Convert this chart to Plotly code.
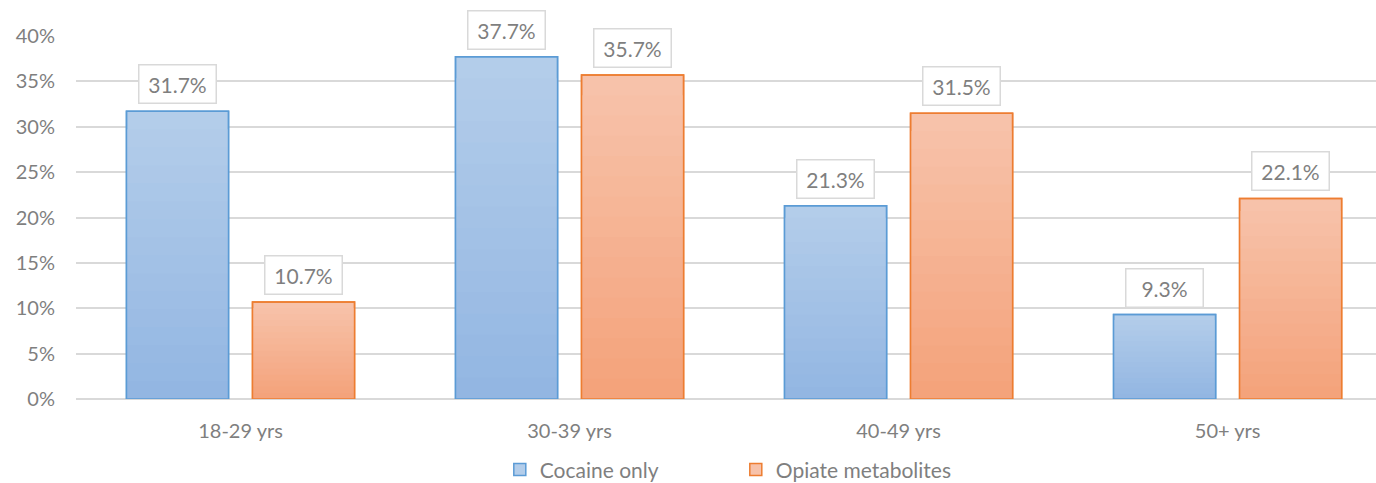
import plotly.graph_objects as go

categories = ["18-29 yrs", "30-39 yrs", "40-49 yrs", "50+ yrs"]
cocaine = [31.7, 37.7, 21.3, 9.3]
opiate = [10.7, 35.7, 31.5, 22.1]
yticks = [0, 5, 10, 15, 20, 25, 30, 35, 40]

FONT = "Lato"
GRAY = "#7F7F7F"

def lerp(c1, c2, t):
    a = [int(c1[i:i+2], 16) for i in (1, 3, 5)]
    b = [int(c2[i:i+2], 16) for i in (1, 3, 5)]
    return "#%02X%02X%02X" % tuple(round(a[k] + (b[k] - a[k]) * t) for k in range(3))

series = [
    ("Cocaine only", cocaine, "#B3CDEA", "#93B6E2", "#5B9BD5", -1),
    ("Opiate metabolites", opiate, "#F7C2AA", "#F4A37B", "#ED7D31", 1),
]

fig = go.Figure()
N = 16
for name, vals, top, bot, line, side in series:
    fig.add_trace(go.Bar(x=categories, y=vals, name=name, offsetgroup=name,
                         marker=dict(color=top, line=dict(color=line, width=1.5)),
                         legendgroup=name, showlegend=True))
    for k in range(1, N):
        frac = 1 - k / N
        fig.add_trace(go.Bar(x=categories, y=[v * frac for v in vals], offsetgroup=name,
                             marker=dict(color=lerp(top, bot, k / (N - 1)), line=dict(width=0)),
                             legendgroup=name, showlegend=False, hoverinfo="skip"))
    fig.add_trace(go.Bar(x=categories, y=vals, offsetgroup=name,
                         marker=dict(color="rgba(0,0,0,0)", line=dict(color=line, width=1.5)),
                         legendgroup=name, showlegend=False, hoverinfo="skip"))

annotations = []
for name, vals, top, bot, line, side in series:
    for c, v in zip(categories, vals):
        annotations.append(dict(
            x=c, y=v, xref="x", yref="y", text=f"{v:.1f}%", showarrow=False,
            xshift=side * 63, yanchor="bottom", yshift=7,
            font=dict(family=FONT, size=21, color=GRAY),
            width=66, height=27,
            bgcolor="white", bordercolor="#D9D9D9", borderwidth=1.5, borderpad=5))

fig.update_layout(
    width=1376, height=483,
    margin=dict(l=76, r=0, t=36, b=84, autoexpand=False),
    barmode="overlay",
    bargap=0.234, bargroupgap=0.19,
    plot_bgcolor="white", paper_bgcolor="white",
    font=dict(family=FONT, size=20, color=GRAY),
    showlegend=True,
    legend=dict(orientation="h", x=0.326, xanchor="left", yref="container", y=0.027,
                yanchor="middle",
                font=dict(family=FONT, size=21, color=GRAY), itemwidth=30,
                traceorder="normal", entrywidthmode="pixels", entrywidth=191),
    annotations=annotations,
)
fig.update_xaxes(showgrid=False, showline=False, ticks="", tickfont=dict(size=20, color=GRAY),
                 ticklabelstandoff=18, range=[-0.5, 3.451])
fig.update_yaxes(range=[0, 40], tickvals=yticks, ticktext=[f"{t}%" for t in yticks],
                 showgrid=True, gridcolor="#D9D9D9", gridwidth=1.5, zeroline=True,
                 zerolinecolor="#D9D9D9", zerolinewidth=1.5, ticks="",
                 tickfont=dict(size=20, color=GRAY), ticklabelstandoff=20)

fig.write_html("out.html")
